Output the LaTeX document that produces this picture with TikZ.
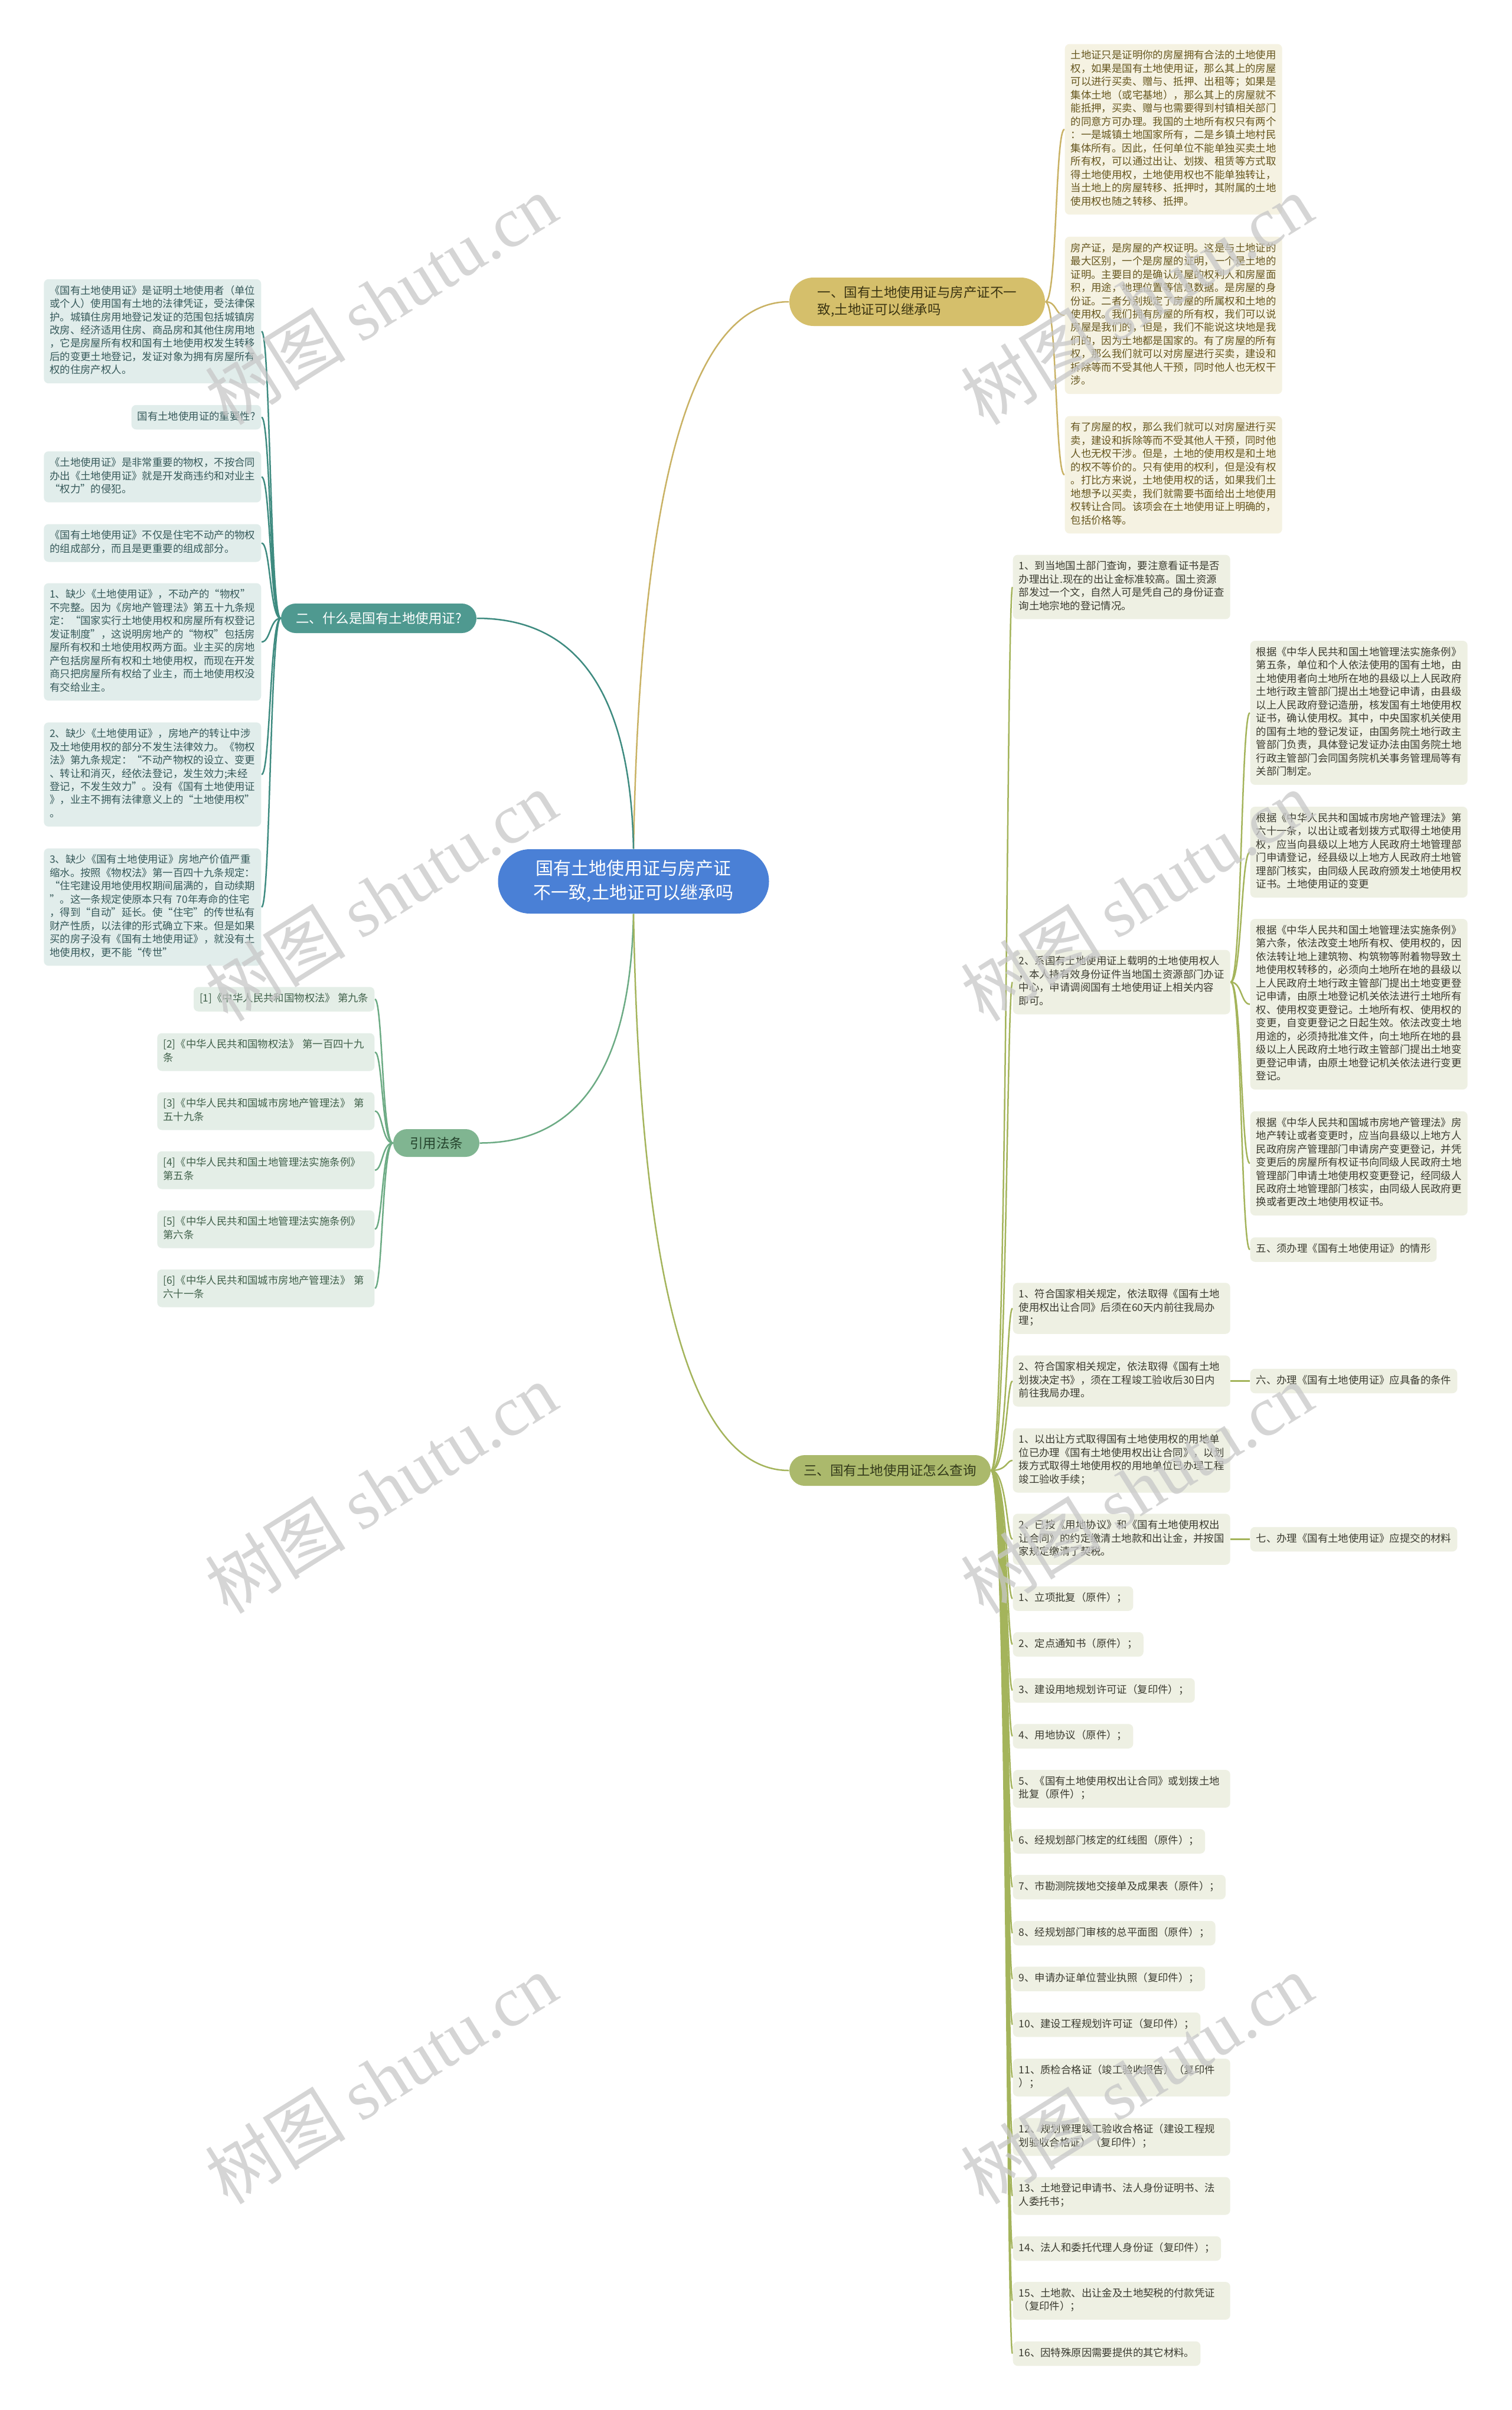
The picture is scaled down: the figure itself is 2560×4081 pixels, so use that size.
\documentclass[tikz,border=0pt]{standalone}
\usepackage{fontspec}
\setmainfont{Noto Sans CJK SC}
\newfontfamily\wmlatin{Liberation Serif}
\usetikzlibrary{backgrounds}
\newcommand\smallfs{\fontsize{4.95pt}{6.4pt}\selectfont}
\newcommand\branchfs{\fontsize{6.4pt}{8.25pt}\selectfont}
\newcommand\rootfs{\fontsize{8.54pt}{11.67pt}\selectfont}
\newcommand\wmfs{\fontsize{34pt}{34pt}\selectfont}
\definecolor{rootfill}{HTML}{4A80D6}
\definecolor{bafill}{HTML}{D5BF6B}
\definecolor{batext}{HTML}{3B3412}
\definecolor{la}{HTML}{C9B264}
\definecolor{kafill}{HTML}{F5F2E2}
\definecolor{katext}{HTML}{66561E}
\definecolor{bbfill}{HTML}{4F9990}
\definecolor{lb}{HTML}{3E8B80}
\definecolor{kbfill}{HTML}{E1EDEB}
\definecolor{kbtext}{HTML}{36595A}
\definecolor{bcfill}{HTML}{80B591}
\definecolor{bctext}{HTML}{24432C}
\definecolor{lc}{HTML}{6CAB84}
\definecolor{kcfill}{HTML}{E4EEE7}
\definecolor{kctext}{HTML}{40604A}
\definecolor{bdfill}{HTML}{ABB96C}
\definecolor{bdtext}{HTML}{333A1A}
\definecolor{ld}{HTML}{A4B45B}
\definecolor{kdfill}{HTML}{EEF0E3}
\definecolor{kdtext}{HTML}{3B3B30}
\tikzset{
  box/.style={rectangle, rounded corners=0.8mm, inner xsep=1mm, inner ysep=0.95mm, align=left, font=\smallfs, execute at begin node=\strut, execute at end node=\strut},
  wide/.style={text width=34.8mm},
  ka/.style={box, fill=kafill, text=katext},
  kb/.style={box, fill=kbfill, text=kbtext},
  kc/.style={box, fill=kcfill, text=kctext},
  kd/.style={box, fill=kdfill, text=kdtext},
  pill/.style={rectangle, inner sep=0pt, font=\branchfs},
  rootn/.style={rectangle, rounded corners=5.4mm, fill=rootfill, text=white, font=\rootfs, align=center, minimum width=45.9mm, minimum height=10.9mm, inner sep=0pt},
  link/.style={line width=0.25mm},
  wm/.style={text=black!22, opacity=0.75, font=\wmfs, rotate=32, inner sep=0pt}
}
\begin{document}
\begin{tikzpicture}[x=0.1mm,y=-0.1mm]
\useasboundingbox (0,0) rectangle (2560,4081);

% ---------- root and branches
\node[rootn] (root) at (1073,1492.5) {国有土地使用证与房产证\\不一致,土地证可以继承吗};
\node[pill, rounded corners=4.1mm, minimum width=43.3mm, minimum height=8.2mm, align=left, fill=bafill, text=batext] (b1) at (1553.5,511) {一、国有土地使用证与房产证不一\\致,土地证可以继承吗};
\node[pill, rounded corners=2.5mm, minimum width=33.1mm, minimum height=5mm, fill=bbfill, text=white] (b2) at (641.5,1047) {二、什么是国有土地使用证?};
\node[pill, rounded corners=2.35mm, minimum width=14.6mm, minimum height=4.7mm, fill=bcfill, text=bctext] (cit) at (739,1935.5) {引用法条};
\node[pill, rounded corners=2.6mm, minimum width=34.1mm, minimum height=5.2mm, fill=bdfill, text=bdtext] (b3) at (1507.5,2490) {三、国有土地使用证怎么查询};

% ---------- branch 1 children
\node[ka, wide, anchor=west] (a1) at (1803,219) {土地证只是证明你的房屋拥有合法的土地使用\\权，如果是国有土地使用证，那么其上的房屋\\可以进行买卖、赠与、抵押、出租等；如果是\\集体土地（或宅基地），那么其上的房屋就不\\能抵押，买卖、赠与也需要得到村镇相关部门\\的同意方可办理。我国的土地所有权只有两个\\：一是城镇土地国家所有，二是乡镇土地村民\\集体所有。因此，任何单位不能单独买卖土地\\所有权，可以通过出让、划拨、租赁等方式取\\得土地使用权，土地使用权也不能单独转让，\\当土地上的房屋转移、抵押时，其附属的土地\\使用权也随之转移、抵押。};
\node[ka, wide, anchor=west] (a2) at (1803,534) {房产证，是房屋的产权证明。这是与土地证的\\最大区别，一个是房屋的证明，一个是土地的\\证明。主要目的是确认房屋的权利人和房屋面\\积，用途，地理位置等信息数据。是房屋的身\\份证。二者分别规定了房屋的所属权和土地的\\使用权。我们拥有房屋的所有权，我们可以说\\房屋是我们的，但是，我们不能说这块地是我\\们的，因为土地都是国家的。有了房屋的所有\\权，那么我们就可以对房屋进行买卖，建设和\\拆除等而不受其他人干预，同时他人也无权干\\涉。};
\node[ka, wide, anchor=west] (a3) at (1803,804) {有了房屋的权，那么我们就可以对房屋进行买\\卖，建设和拆除等而不受其他人干预，同时他\\人也无权干涉。但是，土地的使用权是和土地\\的权不等价的。只有使用的权利，但是没有权\\。打比方来说，土地使用权的话，如果我们土\\地想予以买卖，我们就需要书面给出土地使用\\权转让合同。该项会在土地使用证上明确的，\\包括价格等。};

% ---------- branch 2 children
\node[kb, wide, anchor=east] (c1) at (443,561) {《国有土地使用证》是证明土地使用者（单位\\或个人）使用国有土地的法律凭证，受法律保\\护。城镇住房用地登记发证的范围包括城镇房\\改房、经济适用住房、商品房和其他住房用地\\，它是房屋所有权和国有土地使用权发生转移\\后的变更土地登记，发证对象为拥有房屋所有\\权的住房产权人。};
\node[kb, anchor=east] (c2) at (443,706.5) {国有土地使用证的重要性?};
\node[kb, wide, anchor=east] (c3) at (443,807.5) {《土地使用证》是非常重要的物权，不按合同\\办出《土地使用证》就是开发商违约和对业主\\“权力”的侵犯。};
\node[kb, wide, anchor=east] (c4) at (443,919.5) {《国有土地使用证》不仅是住宅不动产的物权\\的组成部分，而且是更重要的组成部分。};
\node[kb, wide, anchor=east] (c5) at (443,1087) {1、缺少《土地使用证》，不动产的“物权”\\不完整。因为《房地产管理法》第五十九条规\\定：“国家实行土地使用权和房屋所有权登记\\发证制度”，这说明房地产的“物权”包括房\\屋所有权和土地使用权两方面。业主买的房地\\产包括房屋所有权和土地使用权，而现在开发\\商只把房屋所有权给了业主，而土地使用权没\\有交给业主。};
\node[kb, wide, anchor=east] (c6) at (443,1311.5) {2、缺少《土地使用证》，房地产的转让中涉\\及土地使用权的部分不发生法律效力。《物权\\法》第九条规定：“不动产物权的设立、变更\\、转让和消灭，经依法登记，发生效力;未经\\登记，不发生效力”。没有《国有土地使用证\\》，业主不拥有法律意义上的“土地使用权”\\。};
\node[kb, wide, anchor=east] (c7) at (443,1536) {3、缺少《国有土地使用证》房地产价值严重\\缩水。按照《物权法》第一百四十九条规定：\\“住宅建设用地使用权期间届满的，自动续期\\”。这一条规定使原本只有~70年寿命的住宅\\，得到“自动”延长。使“住宅”的传世私有\\财产性质，以法律的形式确立下来。但是如果\\买的房子没有《国有土地使用证》，就没有土\\地使用权，更不能“传世”};

% ---------- citations
\node[kc, anchor=east] (d1) at (635,1692) {[1]《中华人民共和国物权法》~第九条};
\node[kc, wide, anchor=east] (d2) at (635,1781.5) {[2]《中华人民共和国物权法》~第一百四十九\\条};
\node[kc, wide, anchor=east] (d3) at (635,1881.5) {[3]《中华人民共和国城市房地产管理法》~第\\五十九条};
\node[kc, wide, anchor=east] (d4) at (635,1981.5) {[4]《中华人民共和国土地管理法实施条例》\\第五条};
\node[kc, wide, anchor=east] (d5) at (635,2081.5) {[5]《中华人民共和国土地管理法实施条例》\\第六条};
\node[kc, wide, anchor=east] (d6) at (635,2181.5) {[6]《中华人民共和国城市房地产管理法》~第\\六十一条};

% ---------- branch 3 children
\node[kd, wide, anchor=west] (e1) at (1715,994) {1、到当地国土部门查询，要注意看证书是否\\办理出让.现在的出让金标准较高。国土资源\\部发过一个文，自然人可是凭自己的身份证查\\询土地宗地的登记情况。};
\node[kd, wide, anchor=west] (e2) at (1715,1663) {2、系国有土地使用证上载明的土地使用权人\\，本人持有效身份证件当地国土资源部门办证\\中心，申请调阅国有土地使用证上相关内容\\即可。};
\node[kd, wide, anchor=west] (f1) at (2117,1207) {根据《中华人民共和国土地管理法实施条例》\\第五条，单位和个人依法使用的国有土地，由\\土地使用者向土地所在地的县级以上人民政府\\土地行政主管部门提出土地登记申请，由县级\\以上人民政府登记造册，核发国有土地使用权\\证书，确认使用权。其中，中央国家机关使用\\的国有土地的登记发证，由国务院土地行政主\\管部门负责，具体登记发证办法由国务院土地\\行政主管部门会同国务院机关事务管理局等有\\关部门制定。};
\node[kd, wide, anchor=west] (f2) at (2117,1443) {根据《中华人民共和国城市房地产管理法》第\\六十一条，以出让或者划拨方式取得土地使用\\权，应当向县级以上地方人民政府土地管理部\\门申请登记，经县级以上地方人民政府土地管\\理部门核实，由同级人民政府颁发土地使用权\\证书。土地使用证的变更};
\node[kd, wide, anchor=west] (f3) at (2117,1700.5) {根据《中华人民共和国土地管理法实施条例》\\第六条，依法改变土地所有权、使用权的，因\\依法转让地上建筑物、构筑物等附着物导致土\\地使用权转移的，必须向土地所在地的县级以\\上人民政府土地行政主管部门提出土地变更登\\记申请，由原土地登记机关依法进行土地所有\\权、使用权变更登记。土地所有权、使用权的\\变更，自变更登记之日起生效。依法改变土地\\用途的，必须持批准文件，向土地所在地的县\\级以上人民政府土地行政主管部门提出土地变\\更登记申请，由原土地登记机关依法进行变更\\登记。};
\node[kd, wide, anchor=west] (f4) at (2117,1970) {根据《中华人民共和国城市房地产管理法》房\\地产转让或者变更时，应当向县级以上地方人\\民政府房产管理部门申请房产变更登记，并凭\\变更后的房屋所有权证书向同级人民政府土地\\管理部门申请土地使用权变更登记，经同级人\\民政府土地管理部门核实，由同级人民政府更\\换或者更改土地使用权证书。};
\node[kd, anchor=west] (f5) at (2117,2116) {五、须办理《国有土地使用证》的情形};

\node[kd, wide, anchor=west] (g1) at (1715,2215.5) {1、符合国家相关规定，依法取得《国有土地\\使用权出让合同》后须在60天内前往我局办\\理；};
\node[kd, wide, anchor=west] (g2) at (1715,2338.5) {2、符合国家相关规定，依法取得《国有土地\\划拨决定书》，须在工程竣工验收后30日内\\前往我局办理。};
\node[kd, anchor=west] (h1) at (2117,2338.5) {六、办理《国有土地使用证》应具备的条件};
\node[kd, wide, anchor=west] (g3) at (1715,2473) {1、以出让方式取得国有土地使用权的用地单\\位已办理《国有土地使用权出让合同》，以划\\拨方式取得土地使用权的用地单位已办理工程\\竣工验收手续；};
\node[kd, wide, anchor=west] (g4) at (1715,2606.5) {2、已按《用地协议》和《国有土地使用权出\\让合同》的约定缴清土地款和出让金，并按国\\家规定缴清了契税。};
\node[kd, anchor=west] (h2) at (2117,2606.5) {七、办理《国有土地使用证》应提交的材料};

\node[kd, anchor=west] (i1) at (1715,2707) {1、立项批复（原件）；};
\node[kd, anchor=west] (i2) at (1715,2784.5) {2、定点通知书（原件）；};
\node[kd, anchor=west] (i3) at (1715,2862.5) {3、建设用地规划许可证（复印件）；};
\node[kd, anchor=west] (i4) at (1715,2940) {4、用地协议（原件）；};
\node[kd, wide, anchor=west] (i5) at (1715,3029) {5、《国有土地使用权出让合同》或划拨土地\\批复（原件）；};
\node[kd, anchor=west] (i6) at (1715,3118) {6、经规划部门核定的红线图（原件）；};
\node[kd, anchor=west] (i7) at (1715,3195.5) {7、市勘测院拨地交接单及成果表（原件）；};
\node[kd, anchor=west] (i8) at (1715,3273.5) {8、经规划部门审核的总平面图（原件）；};
\node[kd, anchor=west] (i9) at (1715,3351) {9、申请办证单位营业执照（复印件）；};
\node[kd, anchor=west] (i10) at (1715,3428.5) {10、建设工程规划许可证（复印件）；};
\node[kd, wide, anchor=west] (i11) at (1715,3518) {11、质检合格证（竣工验收报告）（复印件\\）；};
\node[kd, wide, anchor=west] (i12) at (1715,3618.5) {12、规划管理竣工验收合格证（建设工程规\\划验收合格证）（复印件）；};
\node[kd, wide, anchor=west] (i13) at (1715,3718.5) {13、土地登记申请书、法人身份证明书、法\\人委托书；};
\node[kd, anchor=west] (i14) at (1715,3807.5) {14、法人和委托代理人身份证（复印件）；};
\node[kd, wide, anchor=west] (i15) at (1715,3896) {15、土地款、出让金及土地契税的付款凭证\\（复印件）；};
\node[kd, anchor=west] (i16) at (1715,3985.5) {16、因特殊原因需要提供的其它材料。};

% ---------- connectors
\begin{scope}[on background layer]
\fill[white] (0,0) rectangle (2560,4081);
\draw[link, color=la] (root.north) .. controls +(11,-618) and +(-165,0) .. (b1.west);
\draw[link, color=lb] (root.north) .. controls +(-5,-261) and +(172,0) .. (b2.east);
\draw[link, color=lc] (root.south) .. controls +(-5,259) and +(169,0) .. (cit.east);
\draw[link, color=ld] (root.south) .. controls +(11,629) and +(-165,0) .. (b3.west);
\foreach \c in {a1,a2,a3}
  \draw[link, color=la] (b1.east) .. controls +(20,0) and +(-16,0) .. (\c.west);
\foreach \c in {c1,c2,c3,c4,c5,c6,c7}
  \draw[link, color=lb] (b2.west) .. controls +(-18,0) and +(15,0) .. (\c.east);
\foreach \c in {d1,d2,d3,d4,d5,d6}
  \draw[link, color=lc] (cit.west) .. controls +(-18,0) and +(13,0) .. (\c.east);
\foreach \c in {e1,e2,g1,g2,g3,g4,i1,i2,i3,i4,i5,i6,i7,i8,i9,i10,i11,i12,i13,i14,i15,i16}
  \draw[link, color=ld] (b3.east) .. controls +(27,0) and +(-10,0) .. (\c.west);
\foreach \c in {f1,f2,f3,f4,f5}
  \draw[link, color=ld] (e2.east) .. controls +(19,0) and +(-15,0) .. (\c.west);
\draw[link, color=ld] (g2.east) -- (h1.west);
\draw[link, color=ld] (g4.east) -- (h2.west);
\end{scope}

% ---------- watermarks
\node[wm] (w1) at (645,507) {树图 {\wmlatin shutu.cn}};
\node[wm] (w2) at (645,1517) {树图 {\wmlatin shutu.cn}};
\node[wm] (w3) at (645,2520) {树图 {\wmlatin shutu.cn}};
\node[wm] (w4) at (645,3520) {树图 {\wmlatin shutu.cn}};
\node[wm] (w5) at (1925,507) {树图 {\wmlatin shutu.cn}};
\node[wm] (w6) at (1925,1517) {树图 {\wmlatin shutu.cn}};
\node[wm] (w7) at (1925,2520) {树图 {\wmlatin shutu.cn}};
\node[wm] (w8) at (1925,3520) {树图 {\wmlatin shutu.cn}};
\end{tikzpicture}
\end{document}
